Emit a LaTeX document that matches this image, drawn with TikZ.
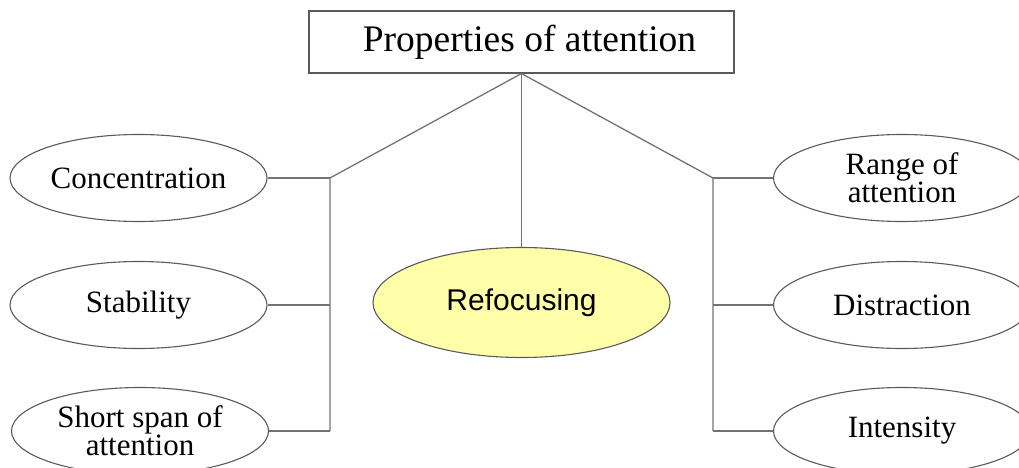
\documentclass[tikz,border=0pt]{standalone}
\usepackage{fontspec}
\setmainfont{Liberation Serif}
\newfontfamily\arialfont{Liberation Sans}
\usetikzlibrary{shapes.geometric}
\definecolor{linegray}{RGB}{115,115,115}
\definecolor{edgegray}{RGB}{90,90,90}
\definecolor{paleyellow}{RGB}{255,255,170}
\begin{document}
\begin{tikzpicture}[x=1pt, y=-1pt]
        \tikzstyle{prop}=[ellipse, draw=edgegray, line width=1.1pt, minimum width=257pt, minimum height=87pt, inner sep=0pt, align=center, font=\fontsize{31}{26}\selectfont]
        \tikzstyle{link}=[draw=linegray, line width=1.3pt]

        \useasboundingbox (0,0) rectangle (1019,468);

        \node[draw=edgegray, line width=1.1pt, minimum width=425pt, minimum height=62pt, inner sep=0pt, font=\fontsize{37.5}{40}\selectfont] (title) at (521.5,42) {\hspace*{16pt}Properties of attention};

        \node[prop] (conc) at (138.5,178) {Concentration};
        \node[prop] (stab) at (138.5,305) {Stability};
        \node[prop] (span) at (140,431) {Short span of\\attention};

        \node[prop, fill=paleyellow, minimum width=297pt, minimum height=110pt, font=\arialfont\fontsize{30}{30}\selectfont] (refo) at (521.5,302.5) {Refocusing};

        \node[prop] (rang) at (902,178) {Range of\\attention};
        \node[prop] (dist) at (902,305) {Distraction};
        \node[prop] (ints) at (902,431) {Intensity};

        \coordinate (jl) at (330,178);
        \coordinate (jr) at (713,178);

        \draw[link] (title.south) -- (jl) -- (jl |- span.east);
        \draw[link] (title.south) -- (jr) -- (jr |- ints.west);
        \draw[link] (title.south) -- (refo.north);

        \draw[link] (conc.east) -- (conc.east -| jl);
        \draw[link] (stab.east) -- (stab.east -| jl);
        \draw[link] (span.east) -- (span.east -| jl);
        \draw[link] (rang.west) -- (rang.west -| jr);
        \draw[link] (dist.west) -- (dist.west -| jr);
        \draw[link] (ints.west) -- (ints.west -| jr);
    \end{tikzpicture}
\end{document}
